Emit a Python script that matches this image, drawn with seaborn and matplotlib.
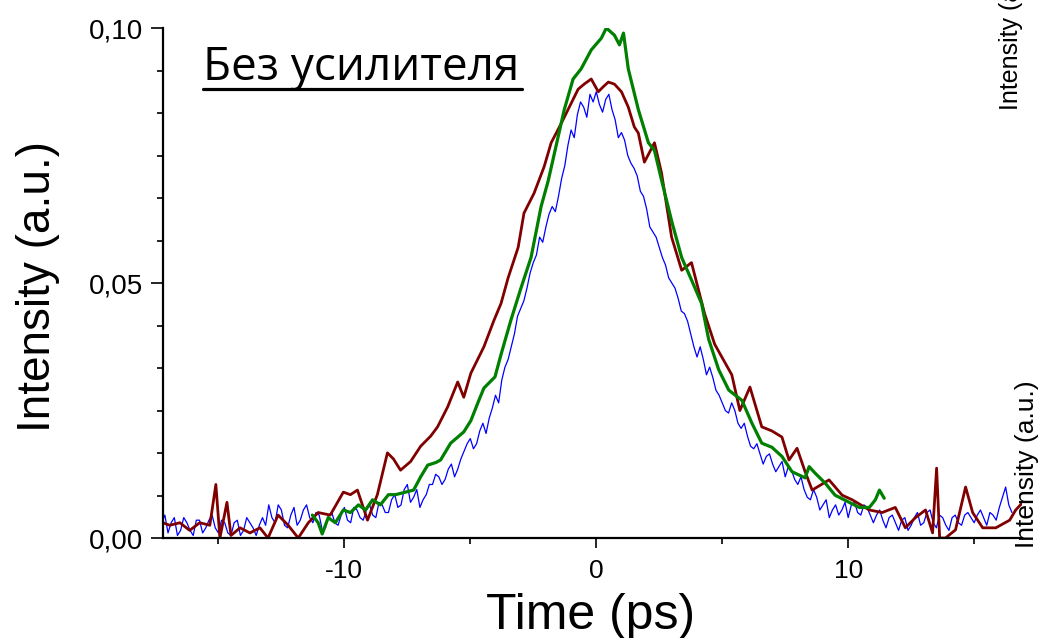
import numpy as np
import pandas as pd
import matplotlib
matplotlib.use("Agg")
import matplotlib.pyplot as plt
from matplotlib.lines import Line2D
from matplotlib.ticker import MultipleLocator, FuncFormatter
import seaborn as sns

# Blue trace: readings every 0.25 ps starting at -17.25 ps ...
blue_start = -17.25
blue_step = 0.25
blue_i = [
    0.003, 0.001, 0.004, 0.0015, 0.003, 0.0005, 0.0035, 0.002,
    0.0045, 0.001, 0.003, 0.0005, 0.0035, 0.0015, 0.003, 0.0005,
    0.004, 0.0065, 0.003, 0.0055, 0.002, 0.006, 0.0035, 0.0065,
    0.003, 0.0045, 0.002, 0.005, 0.0025, 0.006, 0.003, 0.0055,
    0.0035, 0.0065, 0.004, 0.0065, 0.005, 0.0085, 0.0065, 0.0105,
    0.008, 0.006, 0.0085, 0.0105, 0.012, 0.0115, 0.0145, 0.0135,
    0.017, 0.0195, 0.0185, 0.0225, 0.0235, 0.028, 0.031, 0.035,
    0.040, 0.045, 0.049, 0.054, 0.059, 0.061, 0.065, 0.067,
    0.073, 0.080, 0.083, 0.0845, 0.087, 0.0875, 0.0835, 0.087,
    0.082, 0.0795, 0.075, 0.0725, 0.068, 0.0645, 0.060, 0.057,
    0.0535, 0.050, 0.047, 0.044, 0.040, 0.0355, 0.035, 0.0335,
    0.029, 0.0265, 0.0245, 0.025, 0.0215, 0.020, 0.0175, 0.0165,
    0.016, 0.0145, 0.014, 0.012, 0.0133, 0.0105, 0.0095, 0.0075,
    0.008, 0.0065, 0.004, 0.0065, 0.0055, 0.004, 0.007, 0.0045,
    0.006, 0.003, 0.0055, 0.002, 0.0045, 0.0015, 0.004, 0.0025,
    0.005, 0.003, 0.0055, 0.002, 0.004, 0.0015, 0.0045, 0.0025,
    0.005, 0.003, 0.0055, 0.0025, 0.0045, 0.006, 0.010, 0.005,
]
# ... and the readings halfway between them (from -17.125 ps)
blue_mid_i = [
    0.0045, 0.003, 0.0005, 0.004, 0.0015, 0.0035, 0.001, 0.0035,
    0.002, 0.0035, 0.001, 0.003, 0.0005, 0.004, 0.002, 0.0025,
    0.0025, 0.004, 0.0065, 0.0025, 0.0045, 0.0025, 0.0055, 0.004,
    0.005, 0.0015, 0.0045, 0.003, 0.0045, 0.0035, 0.006, 0.004,
    0.0055, 0.0045, 0.007, 0.005, 0.0075, 0.006, 0.0095, 0.007,
    0.0095, 0.0075, 0.0105, 0.0125, 0.0105, 0.0135, 0.012, 0.0155,
    0.0185, 0.0175, 0.021, 0.0205, 0.0255, 0.0265, 0.0335, 0.0375,
    0.0435, 0.0465, 0.052, 0.0555, 0.058, 0.0635, 0.064, 0.0705,
    0.077, 0.0785, 0.0855, 0.0825, 0.0855, 0.085, 0.086, 0.084,
    0.0785, 0.078, 0.0735, 0.071, 0.067, 0.061, 0.059, 0.055,
    0.051, 0.049, 0.0445, 0.0425, 0.0375, 0.0375, 0.032, 0.0315,
    0.028, 0.025, 0.0265, 0.0225, 0.0225, 0.018, 0.0185, 0.0145,
    0.0165, 0.013, 0.015, 0.014, 0.0115, 0.012, 0.008, 0.0095,
    0.0055, 0.0075, 0.0055, 0.0045, 0.007, 0.0065, 0.005, 0.0065,
    0.0045, 0.0045, 0.0035, 0.004, 0.003, 0.0035, 0.0015, 0.004,
    0.0025, 0.005, 0.003, 0.0045, 0.0025, 0.004, 0.003, 0.0045,
    0.004, 0.0045, 0.004, 0.005, 0.0035, 0.008, 0.0065,
]

# Dark red trace
red_t = [-17.21, -16.93, -16.53, -16.14, -15.74, -15.34, -15.10, -14.94, -14.66, -14.50,
         -14.14, -13.75, -13.35, -13.03, -12.63, -12.23, -11.83, -11.43, -11.04, -10.56,
         -10.04, -9.76, -9.48, -9.08, -8.69, -8.29, -8.05, -7.77, -7.37, -6.97,
         -6.57, -6.30, -5.90, -5.50, -5.26, -4.98, -4.46, -4.06, -3.78, -3.50,
         -3.10, -2.87, -2.47, -2.07, -1.79, -1.39, -1.12, -0.72, -0.48, -0.20,
         0.08, 0.28, 0.48, 0.72, 1.00, 1.27, 1.51, 1.67, 1.91, 2.31,
         2.59, 2.99, 3.39, 3.78, 4.30, 4.70, 5.38, 5.70, 6.10, 6.57,
         6.97, 7.37, 7.65, 7.97, 8.29, 8.57, 9.24, 9.76, 10.16, 10.84,
         11.35, 11.87, 12.27, 12.67, 13.07, 13.35, 13.51, 13.63, 13.86, 14.26,
         14.66, 14.94, 15.34, 15.86, 16.41, 16.65, 16.93]
red_i = [0.003, 0.0025, 0.003, 0.0015, 0.003, 0.0025, 0.0105, 0.0, 0.007, 0.0005,
         0.002, 0.001, 0.002, 0.0, 0.0045, 0.0025, 0.0, 0.003, 0.005, 0.0045,
         0.009, 0.0085, 0.0094, 0.0035, 0.0085, 0.0167, 0.0155, 0.0133, 0.015, 0.018,
         0.020, 0.0218, 0.0257, 0.0306, 0.0276, 0.0323, 0.0375, 0.0427, 0.046, 0.051,
         0.057, 0.0637, 0.0676, 0.0728, 0.0775, 0.0813, 0.084, 0.088, 0.089, 0.090,
         0.0875, 0.0885, 0.0894, 0.089, 0.0875, 0.0845, 0.0806, 0.0794, 0.0737, 0.0775,
         0.0716, 0.059, 0.0525, 0.054, 0.044, 0.038, 0.032, 0.025, 0.0296, 0.0218,
         0.021, 0.0198, 0.0153, 0.0176, 0.013, 0.0094, 0.0114, 0.0084, 0.0075, 0.0055,
         0.005, 0.006, 0.002, 0.004, 0.0055, 0.001, 0.0137, 0.0, 0.0, 0.0016,
         0.010, 0.005, 0.002, 0.002, 0.0035, 0.0055, 0.007]

# Green trace
green_t = [-11.27, -11.04, -10.88, -10.64, -10.36, -10.04, -9.76, -9.44, -9.16, -8.88,
           -8.57, -8.25, -7.97, -7.57, -7.25, -6.97, -6.69, -6.37, -6.18, -5.78,
           -5.26, -4.98, -4.66, -4.46, -4.02, -3.78, -3.39, -2.99, -2.59, -2.19,
           -1.91, -1.27, -0.92, -0.60, -0.20, 0.20, 0.40, 0.72, 0.92, 1.08,
           1.27, 1.67, 2.07, 2.31, 2.60, 3.00, 3.39, 3.78, 4.18, 4.46,
           4.86, 5.26, 5.78, 6.18, 6.57, 6.97, 7.37, 7.77, 8.29, 8.45,
           8.69, 9.08, 9.48, 10.04, 10.44, 10.84, 11.08, 11.24, 11.43]
green_i = [0.0045, 0.003, 0.0008, 0.004, 0.003, 0.0055, 0.005, 0.0065, 0.0055, 0.0075,
           0.0065, 0.0085, 0.0085, 0.009, 0.0094, 0.012, 0.0143, 0.0148, 0.0153, 0.0186,
           0.0208, 0.023, 0.027, 0.0294, 0.0316, 0.036, 0.0427, 0.049, 0.055, 0.065,
           0.070, 0.084, 0.090, 0.092, 0.0957, 0.098, 0.100, 0.0986, 0.0967, 0.099,
           0.092, 0.084, 0.0775, 0.076, 0.070, 0.062, 0.055, 0.0506, 0.046, 0.039,
           0.033, 0.029, 0.027, 0.0225, 0.0186, 0.0178, 0.016, 0.013, 0.0118, 0.014,
           0.0127, 0.0108, 0.0084, 0.007, 0.006, 0.006, 0.0075, 0.0094, 0.0078]

x_major = 10
x_minor = 5
y_major = 0.05

sns.set_theme(style="ticks")
plt.rcParams['font.family'] = ['Liberation Sans', 'DejaVu Sans']
plt.rcParams.update({
    "text.color": "black",
    "axes.labelcolor": "black",
    "xtick.color": "black",
    "ytick.color": "black",
    "axes.edgecolor": "black",
})

blue_t = blue_start + blue_step * np.arange(len(blue_i))
blue_mid_t = blue_start + blue_step / 2 + blue_step * np.arange(len(blue_mid_i))
df_blue = pd.DataFrame({"t": np.concatenate([blue_t, blue_mid_t]),
                        "I": blue_i + blue_mid_i}).sort_values("t")
df_red = pd.DataFrame({"t": red_t, "I": red_i})
df_green = pd.DataFrame({"t": green_t, "I": green_i})

fig = plt.figure(figsize=(10.38, 6.38), dpi=100)
ax = fig.add_axes([0.157, 0.1567, 0.8276, 0.7994])

sns.lineplot(data=df_blue, x="t", y="I", ax=ax, color="#0000ff", lw=0.9,
             estimator=None, sort=False)
sns.lineplot(data=df_red, x="t", y="I", ax=ax, color="#800000", lw=2.0,
             estimator=None, sort=False)
sns.lineplot(data=df_green, x="t", y="I", ax=ax, color="#008000", lw=2.3,
             estimator=None, sort=False)

ax.set_xlim(-17.2, 16.9)
ax.set_ylim(0, 0.1)
sns.despine(ax=ax)
for side in ("left", "bottom"):
    ax.spines[side].set_linewidth(1.6)
    ax.spines[side].set_color("black")

ax.xaxis.set_major_locator(MultipleLocator(x_major))
ax.xaxis.set_minor_locator(MultipleLocator(x_minor))
ax.yaxis.set_major_locator(MultipleLocator(y_major))
ax.yaxis.set_minor_locator(MultipleLocator(y_major / 6))
ax.yaxis.set_major_formatter(FuncFormatter(lambda v, p: f"{v:.2f}".replace(".", ",")))
ax.xaxis.set_major_formatter(FuncFormatter(lambda v, p: f"{v:.0f}"))

ax.tick_params(axis="x", which="major", length=7, width=1.2, labelsize=19, pad=8,
               direction="out", color="black", labelcolor="black")
ax.tick_params(axis="x", which="minor", length=4.5, width=1.2, direction="out", color="black")
ax.tick_params(axis="y", which="major", length=8.5, width=1.2, labelsize=20, pad=6,
               direction="out", color="black", labelcolor="black")
ax.tick_params(axis="y", which="minor", length=4.5, width=1.2, direction="out", color="black")
ax.set_xlabel("")
ax.set_ylabel("")
ax.grid(False)

fig.text(0.0366, 0.5517, "Intensity (a.u.)", rotation=90, ha="center", va="center",
         fontsize=33, color="black")
fig.text(0.569, 0.035, "Time (ps)", ha="center", va="center", fontsize=36, color="black")

# Underlined heading
fig.text(0.1956, 0.8746, "Без усилителя", ha="left", va="baseline", fontsize=33,
         family=["Open Sans", "DejaVu Sans"], color="black")
fig.add_artist(Line2D([0.1956, 0.5029], [0.8605, 0.8605], transform=fig.transFigure,
                      color="black", lw=2.3))

# Axis titles of the neighbouring panels
fig.text(0.974, 0.8276, "Intensity (a.u.)", rotation=90, ha="center", va="bottom",
         fontsize=18, color="black")
fig.text(0.989, 0.141, "Intensity (a.u.)", rotation=90, ha="center", va="bottom",
         fontsize=19, color="black")

fig.savefig("out.png", dpi=100)
